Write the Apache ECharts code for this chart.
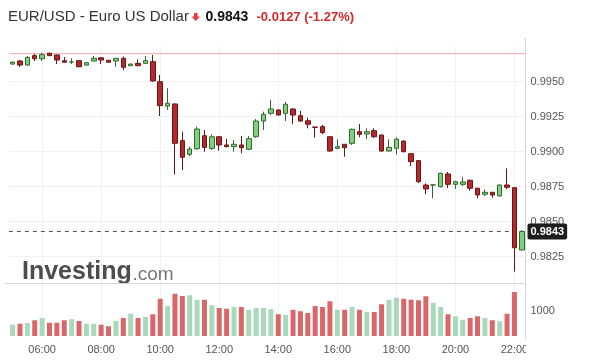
<!DOCTYPE html>
<html><head><meta charset="utf-8">
<script src="https://cdn.jsdelivr.net/npm/echarts@6/dist/echarts.min.js"></script>
<style>html,body{margin:0;padding:0;background:#fff}#c{width:590px;height:361px}</style>
</head><body><div id="c"></div>
<script>
const times = ['05:00','05:15','05:30','05:45','06:00','06:15','06:30','06:45','07:00','07:15','07:30','07:45',
'08:00','08:15','08:30','08:45','09:00','09:15','09:30','09:45','10:00','10:15','10:30','10:45',
'11:00','11:15','11:30','11:45','12:00','12:15','12:30','12:45','13:00','13:15','13:30','13:45',
'14:00','14:15','14:30','14:45','15:00','15:15','15:30','15:45','16:00','16:15','16:30','16:45',
'17:00','17:15','17:30','17:45','18:00','18:15','18:30','18:45','19:00','19:15','19:30','19:45',
'20:00','20:15','20:30','20:45','21:00','21:15','21:30','21:45','22:00','22:15'];
const xTickLabels = ['06:00','08:00','10:00','12:00','14:00','16:00','18:00','20:00','22:00'];

const opens = [0.99626,0.99648,0.99619,0.99686,0.99664,0.99703,0.99691,0.99650,0.99640,0.99650,
0.99619,0.99648,0.99671,0.99653,0.99648,0.99667,0.99614,0.99631,0.99631,0.99643,
0.99500,0.99326,0.99341,0.99079,0.98981,0.99021,0.99114,0.99024,0.99107,0.99048,
0.99036,0.99048,0.99017,0.99107,0.99219,0.99274,0.99298,0.99274,0.99305,0.99257,
0.99221,0.99176,0.99179,0.99107,0.99024,0.99053,0.99060,0.99143,0.99127,0.99150,
0.99119,0.99005,0.99024,0.99076,0.98986,0.98936,0.98762,0.98762,0.98750,0.98841,
0.98767,0.98767,0.98796,0.98739,0.98696,0.98710,0.98684,0.98762,0.98743,0.98298];
const closes = [0.99640,0.99619,0.99674,0.99664,0.99693,0.99686,0.99655,0.99639,0.99641,0.99607,
0.99636,0.99667,0.99655,0.99639,0.99667,0.99603,0.99626,0.99614,0.99650,0.99505,
0.99329,0.99346,0.99060,0.98960,0.99019,0.99162,0.99031,0.99107,0.99048,0.99036,
0.99053,0.99029,0.99093,0.99219,0.99267,0.99305,0.99262,0.99339,0.99262,0.99219,
0.99196,0.99174,0.99136,0.99005,0.99036,0.99029,0.99160,0.99124,0.99143,0.99107,
0.99005,0.99031,0.99089,0.99000,0.98929,0.98786,0.98734,0.98763,0.98846,0.98767,
0.98786,0.98784,0.98739,0.98691,0.98710,0.98691,0.98762,0.98746,0.98314,0.98430];
const lows = [0.99622,0.99605,0.99612,0.99648,0.99648,0.99684,0.99626,0.99636,0.99626,0.99603,
0.99616,0.99646,0.99626,0.99636,0.99607,0.99581,0.99612,0.99612,0.99628,0.99500,
0.99255,0.99298,0.98837,0.98869,0.98969,0.99012,0.99000,0.99012,0.99007,0.99031,
0.99000,0.98989,0.99012,0.99098,0.99155,0.99262,0.99260,0.99219,0.99196,0.99215,
0.99167,0.99100,0.99124,0.99000,0.99017,0.98964,0.99048,0.99103,0.99091,0.99098,
0.99000,0.99000,0.98981,0.98995,0.98898,0.98776,0.98696,0.98667,0.98745,0.98741,
0.98734,0.98755,0.98721,0.98667,0.98684,0.98671,0.98680,0.98731,0.98143,0.98295];
const highs = [0.99645,0.99655,0.99684,0.99698,0.99707,0.99708,0.99695,0.99676,0.99667,0.99652,
0.99638,0.99684,0.99673,0.99655,0.99670,0.99680,0.99628,0.99660,0.99684,0.99691,
0.99548,0.99453,0.99345,0.99143,0.99036,0.99179,0.99155,0.99124,0.99110,0.99091,
0.99084,0.99112,0.99112,0.99234,0.99286,0.99371,0.99302,0.99357,0.99310,0.99291,
0.99243,0.99178,0.99191,0.99110,0.99089,0.99055,0.99165,0.99198,0.99167,0.99167,
0.99122,0.99089,0.99103,0.99080,0.98990,0.98940,0.98774,0.98765,0.98850,0.98855,
0.98793,0.98819,0.98800,0.98742,0.98731,0.98713,0.98765,0.98881,0.98745,0.98440];
const volumes = [450,490,520,630,720,530,530,630,670,600,
490,490,450,390,600,720,890,720,760,870,
1490,1200,1690,1600,1630,1450,1450,1230,1120,1090,
1160,1160,1050,1120,1120,1070,870,850,1050,990,
920,1200,1160,1390,1050,1050,1160,1050,960,960,
1270,1450,1530,1490,1450,1430,1590,1330,1160,870,
790,650,720,790,720,630,590,890,1760,0];
const lastPrice = 0.9843;
const prevClose = 0.9970;
const volumeTickLabel = 1000;

const F = 'Arial, "Liberation Sans", sans-serif';
const showTick = (i, v) => xTickLabels.indexOf(v) >= 0;
const candleData = opens.map((o, i) => [o, closes[i], lows[i], highs[i]]);
const volData = volumes.map((v, i) => ({ value: v, itemStyle: { color: closes[i] >= opens[i] ? '#a7d9ba' : '#d9676a' } }));

const chart = echarts.init(document.getElementById('c'), null, { renderer: 'canvas' });
const gridL = 8.9, gridR = 64.5;
chart.setOption({
  animation: false,
  backgroundColor: '#fff',
  grid: [
    { left: gridL, right: gridR, top: 46.7, bottom: 69.3 },
    { left: gridL, right: gridR, top: 283, bottom: 25 }
  ],
  xAxis: [
    { type: 'category', data: times, gridIndex: 0, boundaryGap: true,
      axisLine: { show: false }, axisTick: { show: false }, axisLabel: { show: false },
      splitLine: { show: true, interval: showTick, alignWithLabel: true, lineStyle: { color: '#f1f1f1' } } },
    { type: 'category', data: times, gridIndex: 1, boundaryGap: true,
      axisLine: { show: false }, axisTick: { show: false },
      axisLabel: { interval: showTick, color: '#555', fontSize: 11, fontFamily: F, margin: 8 },
      splitLine: { show: true, interval: showTick, alignWithLabel: true, lineStyle: { color: '#f1f1f1' } } },
    { type: 'value', gridIndex: 0, min: 0, max: 1, show: false }
  ],
  yAxis: [
    { type: 'value', gridIndex: 0, position: 'right', min: 0.9800, max: 0.9975, interval: 0.0025,
      axisLine: { show: false }, axisTick: { show: false },
      axisLabel: { color: '#555', fontSize: 11, fontFamily: F, margin: 5, showMinLabel: false, showMaxLabel: false,
        formatter: v => v.toFixed(4) },
      splitLine: { show: true, showMinLine: false, showMaxLine: false, lineStyle: { color: '#f1f1f1' } } },
    { type: 'value', gridIndex: 1, position: 'right', min: 0, max: 2120, interval: 1000,
      axisLine: { show: false }, axisTick: { show: false },
      axisLabel: { color: '#555', fontSize: 11, fontFamily: F, margin: 5,
        formatter: v => (v === volumeTickLabel ? String(volumeTickLabel) : '') },
      splitLine: { show: false } }
  ],
  series: [
    { type: 'line', xAxisIndex: 2, yAxisIndex: 0, data: [[0, prevClose], [1, prevClose]], z: 3,
      showSymbol: false, symbol: 'none', silent: true,
      lineStyle: { color: '#f0a4a4', width: 1, type: 'solid' } },
    { type: 'line', xAxisIndex: 2, yAxisIndex: 0, data: [[0, lastPrice], [1, lastPrice]], z: 3,
      showSymbol: false, symbol: 'none', silent: true, clip: false,
      lineStyle: { color: '#555', width: 1, type: [4, 4] },
      endLabel: { show: true, distance: 2, formatter: () => lastPrice.toFixed(4),
        backgroundColor: '#1e1e1e', color: '#fff', fontWeight: 'bold', fontSize: 11, fontFamily: F,
        padding: [3, 3, 2, 3], borderRadius: 2 } },
    { type: 'candlestick', xAxisIndex: 0, yAxisIndex: 0, data: candleData, barWidth: 5, clip: false, z: 4,
      itemStyle: { color: '#80d080', color0: '#b5282d', borderColor: '#2f6a2f', borderColor0: '#6a1616', borderWidth: 1 } },
    { type: 'bar', xAxisIndex: 1, yAxisIndex: 1, data: volData, barWidth: 5 }
  ],
  graphic: [
    { type: 'text', x: 8, y: 17, style: { text: 'EUR/USD - Euro US Dollar', font: '15px ' + F, fill: '#333', verticalAlign: 'middle' } },
    { type: 'polygon', shape: { points: [[194, 13], [197.5, 13], [197.5, 16.5], [200, 16.5], [195.75, 21], [191.5, 16.5], [194, 16.5]] }, style: { fill: '#e53a3f' } },
    { type: 'text', x: 205.5, y: 17, style: { text: '0.9843', font: 'bold 14px ' + F, fill: '#111', verticalAlign: 'middle' } },
    { type: 'text', x: 256.5, y: 17.5, style: { text: '-0.0127 (-1.27%)', font: 'bold 13px ' + F, fill: '#d42a2a', verticalAlign: 'middle' } },
    { type: 'text', x: 22, y: 272, z: 1, style: { text: 'Investing', font: 'bold 25px ' + F, fill: '#4d4d4d', verticalAlign: 'middle' } },
    { type: 'text', x: 132.5, y: 274.5, z: 1, style: { text: '.com', font: '19px ' + F, fill: '#777', verticalAlign: 'middle' } },
    { type: 'line', z: 50, shape: { x1: 5, y1: 283.5, x2: 525.5, y2: 283.5 }, style: { stroke: '#d6d6d6', lineWidth: 1 } },
    { type: 'rect', z: 60, shape: { x: 526, y: 339, width: 40, height: 22 }, style: { fill: '#fff' } },
    { type: 'line', z: 70, shape: { x1: 525.5, y1: 38, x2: 525.5, y2: 339 }, style: { stroke: '#d6d6d6', lineWidth: 1 } }
  ]
});
</script>
</body></html>
